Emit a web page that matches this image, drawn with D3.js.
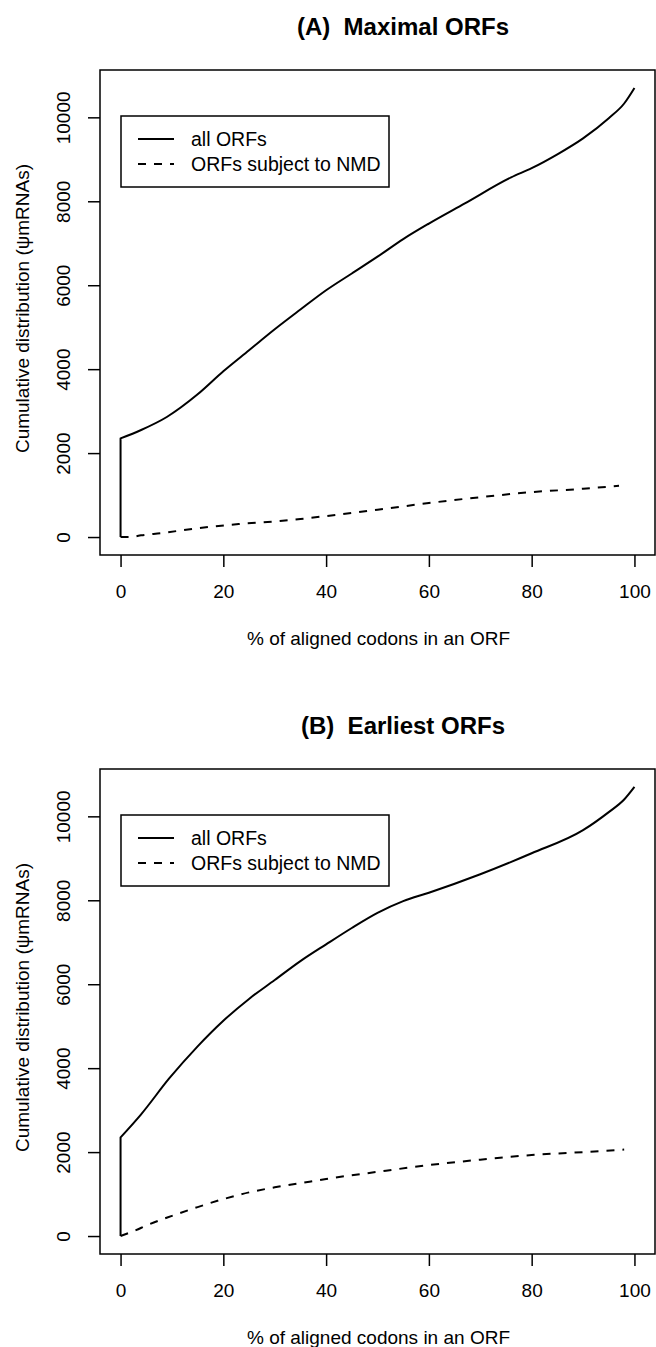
<!DOCTYPE html>
<html>
<head>
<meta charset="utf-8">
<script src="https://cdn.jsdelivr.net/npm/d3@7"></script>
<style>
    body { margin: 0; background: #ffffff; }
    svg text { font-family: "Liberation Sans", Arial, sans-serif; fill: #000; }
</style>
</head>
<body>
<div id="chart"></div>
<script>

/****************************
  * Data
  ***************************/

// x axis ticks (% of aligned codons) and y axis ticks
var xTicks = [0, 20, 40, 60, 80, 100];
var yTicks = [0, 2000, 4000, 6000, 8000, 10000];

// panel A, maximal ORFs
var pctAllA = [0, 0, 4, 9, 15, 20, 25, 30, 35, 40, 45, 50, 55, 60, 67, 76, 80, 85, 90, 95, 98, 100];
var allA = [0, 2350, 2550, 2860, 3400, 3950, 4450, 4950, 5420, 5880, 6280, 6680, 7100, 7470, 7950, 8570, 8790, 9120, 9500, 9980, 10330, 10700];
var pctNmdA = [0, 2, 4, 8, 15, 23, 31, 35, 40, 50, 60, 70, 80, 90, 97];
var nmdA = [0, 0, 40, 95, 210, 310, 380, 430, 500, 650, 810, 950, 1070, 1150, 1220];

// panel B, earliest ORFs
var pctAllB = [0, 0, 4, 9.5, 15, 20, 25, 30, 35, 40, 45, 50, 55, 60, 70, 80, 90, 95, 98, 100];
var allB = [0, 2350, 2900, 3760, 4520, 5130, 5650, 6100, 6550, 6950, 7340, 7700, 7980, 8180, 8620, 9120, 9670, 10100, 10400, 10700];
var pctNmdB = [0, 3, 5, 10, 15, 20, 25, 30, 35, 40, 50, 60, 70, 80, 90, 98];
var nmdB = [0, 140, 250, 480, 690, 880, 1040, 1160, 1260, 1360, 1530, 1690, 1820, 1930, 2000, 2060];

var legendLabels = ['all ORFs', 'ORFs subject to NMD'];

/****************************
  * Layout
  ***************************/

var width = 656;
var height = 1347;
var boxLeft = 100;
var boxRight = 655;
var boxHeight = 485;
var dash = '8,8';

var svg = d3.select('#chart').append('svg')
    .attr('width', width)
    .attr('height', height);

// zips two arrays into [x, y] pairs
function pairs(xs, ys) {
    return xs.map(function(x, i) { return [x, ys[i]]; });
}

// R style 4% padding around the data range
function padded(lo, hi) {
    var d = (hi - lo) * 0.04;
    return [lo - d, hi + d];
}

function drawPanel(top, title, pctAll, all, pctNmd, nmd) {
    var g = svg.append('g');
    var bottom = top + boxHeight;

    var x = d3.scaleLinear()
        .domain(padded(0, 100))
        .range([boxLeft, boxRight]);
    var yMax = d3.max(all.concat(nmd));
    var y = d3.scaleLinear()
        .domain(padded(0, yMax))
        .range([bottom, top]);

    // title
    g.append('text')
        .attr('x', 403)
        .attr('y', top - 43)
        .attr('dy', '0.35em')
        .attr('text-anchor', 'middle')
        .style('font-size', '24px')
        .style('font-weight', 'bold')
        .style('white-space', 'pre')
        .text(title);

    // axes
    var xAxis = g.append('g')
        .attr('transform', 'translate(0,' + bottom + ')')
        .call(d3.axisBottom(x).tickValues(xTicks).tickSize(12).tickSizeOuter(0).tickPadding(18));
    var yAxis = g.append('g')
        .attr('transform', 'translate(' + boxLeft + ',0)')
        .call(d3.axisLeft(y).tickValues(yTicks).tickSize(12).tickSizeOuter(0).tickFormat(d3.format('d')));

    [xAxis, yAxis].forEach(function(a) {
        a.select('.domain').remove();
        a.selectAll('line').style('stroke', '#000').style('stroke-width', 1.5);
        a.selectAll('text').style('font-size', '19px');
    });

    // y tick labels run along the axis
    yAxis.selectAll('.tick text')
        .attr('x', null)
        .attr('dy', '0.36em')
        .attr('text-anchor', 'middle')
        .attr('transform', 'translate(-37,0) rotate(-90)');

    // axis titles
    g.append('text')
        .attr('x', (boxLeft + boxRight) / 2 + 1)
        .attr('y', bottom + 83)
        .attr('dy', '0.35em')
        .attr('text-anchor', 'middle')
        .style('font-size', '19px')
        .text('% of aligned codons in an ORF');
    g.append('text')
        .attr('transform', 'translate(22,' + ((top + bottom) / 2 - 4) + ') rotate(-90)')
        .attr('dy', '0.35em')
        .attr('text-anchor', 'middle')
        .style('font-size', '19px')
        .text('Cumulative distribution (\u03c8mRNAs)');

    // curves: vertical jump at 0 then a smooth rise
    var allPts = pairs(pctAll, all);
    var jump = d3.line()
        .x(function(d) { return x(d[0]); })
        .y(function(d) { return y(d[1]); });
    var smooth = d3.line()
        .x(function(d) { return x(d[0]); })
        .y(function(d) { return y(d[1]); })
        .curve(d3.curveMonotoneX);

    g.append('path')
        .attr('d', jump(allPts.slice(0, 2)) + smooth(allPts.slice(1)).replace(/^M/, 'L'))
        .style('fill', 'none')
        .style('stroke', '#000')
        .style('stroke-width', 2)
        .style('stroke-linejoin', 'round');

    g.append('path')
        .attr('d', smooth(pairs(pctNmd, nmd)))
        .style('fill', 'none')
        .style('stroke', '#000')
        .style('stroke-width', 2)
        .style('stroke-dasharray', dash);

    // plot box
    g.append('rect')
        .attr('x', boxLeft)
        .attr('y', top)
        .attr('width', boxRight - boxLeft)
        .attr('height', boxHeight)
        .style('fill', 'none')
        .style('stroke', '#000')
        .style('stroke-width', 1.5);

    // legend
    var lg = g.append('g').attr('transform', 'translate(121,' + (top + 46) + ')');
    lg.append('rect')
        .attr('width', 268)
        .attr('height', 71)
        .style('fill', '#fff')
        .style('stroke', '#000')
        .style('stroke-width', 1.5);
    legendLabels.forEach(function(label, i) {
        var ly = 23 + i * 25;
        lg.append('line')
            .attr('x1', 17).attr('x2', 53)
            .attr('y1', ly).attr('y2', ly)
            .style('stroke', '#000')
            .style('stroke-width', 2)
            .style('stroke-dasharray', i === 0 ? null : dash);
        lg.append('text')
            .attr('x', 70)
            .attr('y', ly)
            .attr('dy', '0.35em')
            .style('font-size', '19.5px')
            .text(label);
    });
}

drawPanel(70, '(A)  Maximal ORFs', pctAllA, allA, pctNmdA, nmdA);
drawPanel(769, '(B)  Earliest ORFs', pctAllB, allB, pctNmdB, nmdB);

</script>
</body>
</html>
